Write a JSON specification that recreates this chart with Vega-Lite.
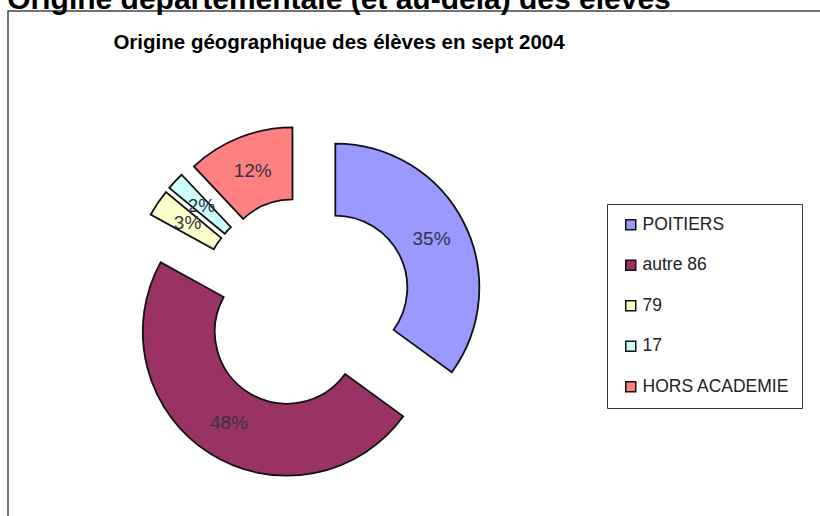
{
  "$schema": "https://vega.github.io/schema/vega-lite/v6.json",
  "width": 814,
  "height": 584,
  "autosize": "none",
  "padding": {"left": 8, "top": 11, "right": 0, "bottom": 0},
  "background": "white",
  "view": {"stroke": "#444444", "strokeWidth": 1.5, "fill": "white"},
  "title": {
    "text": "Origine départementale (et au-delà) des élèves",
    "subtitle": "Origine géographique des élèves en sept 2004",
    "anchor": "middle",
    "frame": "group",
    "dx": -76,
    "offset": -42,
    "subtitlePadding": 18,
    "font": "Liberation Sans",
    "fontSize": 30,
    "fontWeight": "bold",
    "color": "#000000",
    "subtitleFont": "Liberation Sans",
    "subtitleFontSize": 20.5,
    "subtitleFontWeight": "bold",
    "subtitleColor": "#000000"
  },
  "data": {
    "values": [
      {"origine": "POITIERS", "part": 0.35, "rang": 1},
      {"origine": "autre 86", "part": 0.48, "rang": 2},
      {"origine": "79", "part": 0.03, "rang": 3},
      {"origine": "17", "part": 0.02, "rang": 4},
      {"origine": "HORS ACADEMIE", "part": 0.12, "rang": 5}
    ]
  },
  "encoding": {
    "theta": {"field": "part", "type": "quantitative", "stack": true},
    "order": {"field": "rang", "type": "quantitative"},
    "color": {
      "field": "origine",
      "type": "nominal",
      "scale": {
        "domain": ["POITIERS", "autre 86", "79", "17", "HORS ACADEMIE"],
        "range": ["#9999FF", "#993366", "#FFFFCC", "#CCFFFF", "#FF8080"]
      },
      "legend": {
        "orient": "none",
        "legendX": 599,
        "legendY": 193,
        "title": null,
        "strokeColor": "#333333",
        "fillColor": "#ffffff",
        "padding": 12,
        "symbolType": "square",
        "symbolSize": 100,
        "symbolOffset": 3,
        "symbolStrokeColor": "#111111",
        "symbolStrokeWidth": 1.5,
        "labelFont": "Liberation Sans",
        "labelFontSize": 17.5,
        "labelColor": "#222222",
        "labelOffset": 3,
        "rowPadding": 21.5
      }
    }
  },
  "layer": [
    {
      "mark": {"type": "arc", "radius": 144, "radius2": 72, "xOffset": -79.7, "yOffset": -15.4, "stroke": "#111111", "strokeWidth": 1.8},
      "encoding": {"opacity": {"condition": {"test": "datum.origine === 'POITIERS'", "value": 1}, "value": 0}}
    },
    {
      "mark": {"type": "arc", "radius": 144, "radius2": 72, "xOffset": -128.2, "yOffset": 28.7, "stroke": "#111111", "strokeWidth": 1.8},
      "encoding": {"opacity": {"condition": {"test": "datum.origine === 'autre 86'", "value": 1}, "value": 0}}
    },
    {
      "mark": {"type": "arc", "radius": 144, "radius2": 72, "xOffset": -138.1, "yOffset": -19.1, "stroke": "#111111", "strokeWidth": 1.8},
      "encoding": {"opacity": {"condition": {"test": "datum.origine === '79'", "value": 1}, "value": 0}}
    },
    {
      "mark": {"type": "arc", "radius": 144, "radius2": 72, "xOffset": -134.8, "yOffset": -23.3, "stroke": "#111111", "strokeWidth": 1.8},
      "encoding": {"opacity": {"condition": {"test": "datum.origine === '17'", "value": 1}, "value": 0}}
    },
    {
      "mark": {"type": "arc", "radius": 144, "radius2": 72, "xOffset": -122.5, "yOffset": -31.6, "stroke": "#111111", "strokeWidth": 1.8},
      "encoding": {"opacity": {"condition": {"test": "datum.origine === 'HORS ACADEMIE'", "value": 1}, "value": 0}}
    },
    {
      "mark": {"type": "text", "radius": 108, "xOffset": -79.7, "yOffset": -15.4, "font": "Liberation Sans", "fontSize": 19, "align": "center", "baseline": "middle"},
      "encoding": {
        "text": {"field": "part", "type": "quantitative", "format": ".0%"},
        "color": {"value": "#333344"},
        "opacity": {"condition": {"test": "datum.origine === 'POITIERS'", "value": 1}, "value": 0}
      }
    },
    {
      "mark": {"type": "text", "radius": 108, "xOffset": -128.2, "yOffset": 28.7, "font": "Liberation Sans", "fontSize": 19, "align": "center", "baseline": "middle"},
      "encoding": {
        "text": {"field": "part", "type": "quantitative", "format": ".0%"},
        "color": {"value": "#333344"},
        "opacity": {"condition": {"test": "datum.origine === 'autre 86'", "value": 1}, "value": 0}
      }
    },
    {
      "mark": {"type": "text", "radius": 108, "xOffset": -138.1, "yOffset": -19.1, "font": "Liberation Sans", "fontSize": 19, "align": "center", "baseline": "middle"},
      "encoding": {
        "text": {"field": "part", "type": "quantitative", "format": ".0%"},
        "color": {"value": "#333344"},
        "opacity": {"condition": {"test": "datum.origine === '79'", "value": 1}, "value": 0}
      }
    },
    {
      "mark": {"type": "text", "radius": 108, "xOffset": -134.8, "yOffset": -23.3, "font": "Liberation Sans", "fontSize": 19, "align": "center", "baseline": "middle"},
      "encoding": {
        "text": {"field": "part", "type": "quantitative", "format": ".0%"},
        "color": {"value": "#333344"},
        "opacity": {"condition": {"test": "datum.origine === '17'", "value": 1}, "value": 0}
      }
    },
    {
      "mark": {"type": "text", "radius": 108, "xOffset": -122.5, "yOffset": -31.6, "font": "Liberation Sans", "fontSize": 19, "align": "center", "baseline": "middle"},
      "encoding": {
        "text": {"field": "part", "type": "quantitative", "format": ".0%"},
        "color": {"value": "#333344"},
        "opacity": {"condition": {"test": "datum.origine === 'HORS ACADEMIE'", "value": 1}, "value": 0}
      }
    }
  ],
  "config": {
    "font": "Liberation Sans"
  }
}
